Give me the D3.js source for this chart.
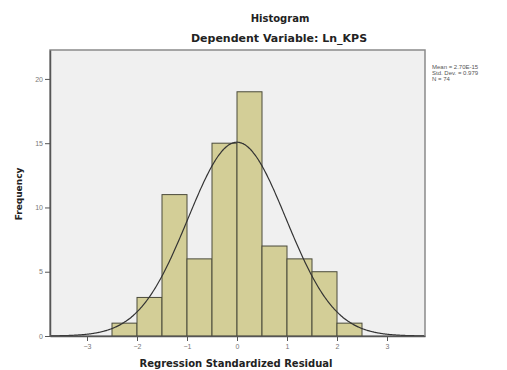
<!DOCTYPE html>
<html>
<head>
<meta charset="utf-8">
<script src="https://cdn.jsdelivr.net/npm/d3@7"></script>
<style>
  body { margin: 0; background: #fff; }
  text { font-family: "Liberation Sans", Arial, sans-serif; }
  .wide { font-family: "DejaVu Sans", Verdana, sans-serif; }
</style>
</head>
<body>
<div id="chart"></div>
<script>
// histogram data (bin starts, width 0.5) and frequencies
var binStarts = [-2.5, -2.0, -1.5, -1.0, -0.5, 0.0, 0.5, 1.0, 1.5, 2.0];
var binWidth = 0.5;
var counts = [1, 3, 11, 6, 15, 19, 7, 6, 5, 1];
var xTicks = [-3, -2, -1, 0, 1, 2, 3];
var yTicks = [0, 5, 10, 15, 20];
// fit stats from the legend
var statMean = 2.70e-15;
var statSd = 0.979;
var statN = 74;
var legendLines = ["Mean = 2.70E-15", "Std. Dev. = 0.979", "N = 74"];

var svgWidth = 507;
var svgHeight = 370;

var margin = { top: 50, left: 50, right: 82, bottom: 34 };
var width = svgWidth - margin.left - margin.right;
var height = svgHeight - margin.top - margin.bottom;

var svg = d3.select("#chart")
  .append("svg")
  .attr("width", svgWidth)
  .attr("height", svgHeight);

// titles
svg.append("text")
  .attr("class", "wide")
  .attr("x", 280).attr("y", 22)
  .attr("text-anchor", "middle")
  .attr("font-size", 10).attr("font-weight", "bold")
  .attr("fill", "#222")
  .text("Histogram");

svg.append("text")
  .attr("class", "wide")
  .attr("x", 279).attr("y", 42)
  .attr("text-anchor", "middle")
  .attr("font-size", 11).attr("font-weight", "bold")
  .attr("fill", "#222")
  .text("Dependent Variable: Ln_KPS");

var chartGroup = svg.append("g")
  .attr("transform", `translate(${margin.left}, ${margin.top})`);

var xScale = d3.scaleLinear()
  .domain([-3.74, 3.76])
  .range([0, width]);

var yScale = d3.scaleLinear()
  .domain([0, 22.25])
  .range([height, 0]);

// plot background
chartGroup.append("rect")
  .attr("width", width).attr("height", height)
  .attr("fill", "#f0f0f0")
  .attr("stroke", "#8a8a8a")
  .attr("stroke-width", 1.5);

// bars
chartGroup.selectAll("rect.bar")
  .data(counts)
  .enter()
  .append("rect")
  .attr("class", "bar")
  .attr("x", (d, i) => xScale(binStarts[i]))
  .attr("width", (d, i) => xScale(binStarts[i] + binWidth) - xScale(binStarts[i]))
  .attr("y", d => yScale(d))
  .attr("height", d => yScale(0) - yScale(d))
  .attr("fill", "#d3ce97")
  .attr("stroke", "#4a4a3a")
  .attr("stroke-width", 1);

// normal curve from the fit stats
var curveX = d3.range(-3.74, 3.76, 0.02);
var line = d3.line()
  .x(d => xScale(d))
  .y(d => yScale(statN * binWidth * Math.exp(-0.5 * Math.pow((d - statMean) / statSd, 2)) / (statSd * Math.sqrt(2 * Math.PI))))
  .curve(d3.curveBasis);

chartGroup.append("path")
  .datum(curveX)
  .attr("d", line)
  .attr("fill", "none")
  .attr("stroke", "#333")
  .attr("stroke-width", 1.2);

// axes
var bottomAxis = d3.axisBottom(xScale).tickValues(xTicks).tickSizeInner(5).tickSizeOuter(0).tickPadding(3);
var leftAxis = d3.axisLeft(yScale).tickValues(yTicks).tickSizeInner(5).tickSizeOuter(0).tickPadding(2);

var xAxisG = chartGroup.append("g")
  .attr("transform", `translate(0, ${height})`)
  .call(bottomAxis);
var yAxisG = chartGroup.append("g").call(leftAxis);

[xAxisG, yAxisG].forEach(function(g) {
  g.select(".domain").attr("stroke", "#555").attr("stroke-width", 1.5);
  g.selectAll(".tick line").attr("stroke", "#555");
  g.selectAll(".tick text").attr("fill", "#777").attr("font-size", 7);
});

// axis labels
svg.append("text")
  .attr("class", "wide")
  .attr("x", 236).attr("y", 367)
  .attr("text-anchor", "middle")
  .attr("font-size", 10).attr("font-weight", "bold")
  .attr("fill", "#222")
  .text("Regression Standardized Residual");

svg.append("text")
  .attr("class", "wide")
  .attr("transform", "translate(22, 194) rotate(-90)")
  .attr("text-anchor", "middle")
  .attr("font-size", 9).attr("font-weight", "bold")
  .attr("fill", "#222")
  .text("Frequency");

// legend
svg.selectAll("text.legend")
  .data(legendLines)
  .enter()
  .append("text")
  .attr("class", "legend")
  .attr("x", 432)
  .attr("y", (d, i) => 69 + i * 6)
  .attr("font-size", 6)
  .attr("fill", "#555")
  .text(d => d);
</script>
</body>
</html>
